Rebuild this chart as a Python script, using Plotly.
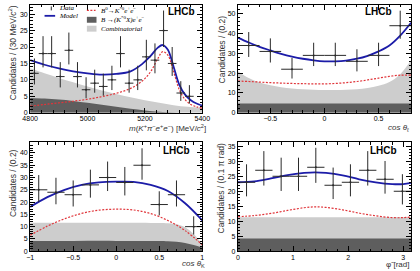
import plotly.graph_objects as go

W, H = 420, 271

# ---------------- Panel 1: mass ----------------
m_centers = [4815, 4845, 4875, 4905, 4935, 4965, 4995, 5025, 5055, 5085,
             5115, 5145, 5175, 5205, 5235, 5265, 5295, 5325, 5355]
m_counts = [12, 18, 18, 11, 19, 11, 7, 9, 8, 10, 18, 9, 10, 17, 16, 25, 15, 6, 5]
m_err_lo = [3.4, 4.2, 4.2, 3.3, 4.3, 3.3, 2.6, 2.9, 2.8, 3.1, 4.2, 2.9, 3.1, 4.1, 4.0, 5.0, 3.8, 2.4, 2.2]
m_err_hi = [4.5, 5.3, 5.3, 4.4, 5.4, 4.4, 3.8, 4.1, 3.9, 4.3, 5.3, 4.1, 4.3, 5.2, 5.1, 6.1, 5.0, 3.6, 3.4]
m_halfbin = 15

m_curve_x = [4800, 4850, 4900, 4950, 5000, 5050, 5100, 5150, 5190, 5220, 5245, 5262,
             5280, 5300, 5320, 5340, 5360, 5380, 5400]
m_model = [16.0, 14.6, 13.5, 12.6, 12.0, 11.6, 11.8, 12.6, 14.8, 17.3, 19.8, 20.6,
           19.2, 14.0, 8.5, 5.5, 3.8, 2.8, 2.2]
m_signal = [2.0, 2.5, 3.0, 3.5, 4.1, 4.9, 5.9, 7.4, 9.6, 12.5, 16.5, 18.6,
            17.5, 12.5, 7.0, 4.0, 2.5, 1.8, 1.4]
m_bkg_x = [4800, 4850, 4900, 4950, 5000, 5050, 5100, 5150, 5200, 5250, 5300, 5350, 5400]
m_comb = [13.5, 12.0, 10.6, 9.3, 8.0, 6.8, 5.7, 4.7, 3.8, 3.0, 2.3, 1.8, 1.5]
m_partreco = [4.5, 4.3, 4.0, 3.6, 3.0, 2.4, 1.8, 1.2, 0.7, 0.3, 0.1, 0.0, 0.0]

# ---------------- Panel 2: cos theta_l ----------------
l_centers = [-0.7, -0.5, -0.3, -0.1, 0.1, 0.3, 0.5, 0.7]
l_counts = [34, 31, 22, 29, 29, 26, 29, 44]
l_err_lo = [5.8, 5.6, 4.7, 5.4, 5.4, 5.1, 5.4, 6.6]
l_err_hi = [6.8, 6.6, 5.7, 6.4, 6.4, 6.1, 6.4, 7.6]
l_halfbin = 0.1
l_curve_x = [-0.8, -0.7, -0.6, -0.5, -0.4, -0.3, -0.2, -0.1, 0.0, 0.1, 0.2, 0.3,
             0.4, 0.5, 0.6, 0.7, 0.8]
l_model = [38.0, 35.5, 33.3, 31.5, 29.8, 28.4, 27.3, 26.5, 26.0, 26.0, 26.4, 27.3,
           28.8, 31.0, 34.0, 39.0, 45.5]
l_signal = [16.0, 15.8, 15.5, 15.2, 15.0, 14.8, 14.7, 14.6, 14.6, 14.8, 15.2, 15.8,
            16.6, 17.5, 18.4, 19.0, 19.0]
l_comb = [21.0, 17.5, 15.3, 13.9, 12.9, 12.3, 11.9, 11.6, 11.5, 11.5, 11.6, 11.9,
          12.5, 13.6, 15.5, 19.5, 26.5]
l_partreco = [4.7] * 17

# ---------------- Panel 3: cos theta_K ----------------
k_centers = [-0.9, -0.7, -0.5, -0.3, -0.1, 0.1, 0.3, 0.5, 0.7, 0.9]
k_counts = [25, 24, 23, 27, 30, 28, 35, 19, 23, 10]
k_err_lo = [5.0, 4.9, 4.8, 5.2, 5.5, 5.3, 5.9, 4.4, 4.8, 3.2]
k_err_hi = [6.0, 5.9, 5.8, 6.2, 6.5, 6.3, 6.9, 5.4, 5.8, 4.2]
k_halfbin = 0.1
k_curve_x = [-1.0, -0.8, -0.6, -0.4, -0.2, 0.0, 0.2, 0.4, 0.6, 0.8, 1.0]
k_model = [18.0, 22.0, 25.0, 27.0, 28.0, 28.3, 28.2, 27.0, 24.5, 19.5, 12.5]
k_signal = [6.5, 10.2, 13.2, 15.4, 16.7, 17.1, 16.8, 15.3, 12.5, 8.4, 2.6]
k_bkg_x = [-1.0, -0.5, 0.0, 0.5, 0.6, 0.7, 0.8, 0.9, 1.0]
k_comb = [11.6, 11.6, 11.6, 11.5, 11.4, 11.0, 9.8, 7.0, 2.8]
k_partreco = [4.2, 4.2, 4.2, 4.1, 4.0, 3.8, 3.3, 2.5, 1.5]

# ---------------- Panel 4: phi ----------------
p_centers = [0.157, 0.471, 0.785, 1.100, 1.414, 1.728, 2.042, 2.356, 2.670, 2.985]
p_counts = [23, 27, 25, 25, 28, 22, 23, 27, 24, 20]
p_err_lo = [4.7, 5.1, 4.9, 4.9, 5.2, 4.6, 4.7, 5.1, 4.8, 4.4]
p_err_hi = [6.0, 6.4, 6.2, 6.2, 6.5, 5.9, 6.0, 6.4, 6.1, 5.7]
p_halfbin = 0.157
p_curve_x = [0.0, 0.3, 0.6, 0.9, 1.2, 1.4, 1.6, 1.9, 2.2, 2.5, 2.8, 3.0, 3.1416]
p_model = [23.0, 23.3, 24.3, 25.4, 26.1, 26.3, 26.1, 25.3, 24.0, 23.0, 22.4, 22.4, 22.8]
p_signal = [11.5, 11.9, 12.6, 13.6, 14.5, 14.8, 14.6, 13.8, 12.7, 11.8, 11.2, 11.2, 11.4]
p_comb = [11.3] * 13
p_partreco = [4.2] * 13

LIGHT = "#cdcdcd"
DARK = "#5e5e5e"
BLUE = "#1c1ca8"
RED = "#e0353a"
DATA = "#2a2a2a"
RED_DASH = "2px,1.5px"

fig = go.Figure()


def add_panel(ax, cx, model, signal, bx, comb, partreco, centers, counts, lo, hi, hb):
    xa, ya = ("x" if ax == 1 else f"x{ax}"), ("y" if ax == 1 else f"y{ax}")
    fig.add_trace(go.Scatter(x=bx, y=comb, mode="lines", line=dict(width=0, shape="spline"),
                             fill="tozeroy", fillcolor=LIGHT, xaxis=xa, yaxis=ya, showlegend=False))
    fig.add_trace(go.Scatter(x=bx, y=partreco, mode="lines", line=dict(width=0, shape="spline"),
                             fill="tozeroy", fillcolor=DARK, xaxis=xa, yaxis=ya, showlegend=False))
    fig.add_trace(go.Scatter(x=cx, y=signal, mode="lines",
                             line=dict(color=RED, width=1.2, dash=RED_DASH, shape="spline"),
                             xaxis=xa, yaxis=ya, showlegend=False))
    fig.add_trace(go.Scatter(x=cx, y=model, mode="lines",
                             line=dict(color=BLUE, width=1.8, shape="spline"),
                             xaxis=xa, yaxis=ya, showlegend=False))
    fig.add_trace(go.Scatter(x=centers, y=counts, mode="markers",
                             marker=dict(color=DATA, size=2),
                             error_x=dict(type="constant", value=hb, color=DATA, thickness=1, width=0),
                             error_y=dict(type="data", array=hi, arrayminus=lo, symmetric=False,
                                          color=DATA, thickness=1, width=0),
                             xaxis=xa, yaxis=ya, showlegend=False))


add_panel(1, m_curve_x, m_model, m_signal, m_bkg_x, m_comb, m_partreco,
          m_centers, m_counts, m_err_lo, m_err_hi, m_halfbin)
add_panel(2, l_curve_x, l_model, l_signal, l_curve_x, l_comb, l_partreco,
          l_centers, l_counts, l_err_lo, l_err_hi, l_halfbin)
add_panel(3, k_curve_x, k_model, k_signal, k_bkg_x, k_comb, k_partreco,
          k_centers, k_counts, k_err_lo, k_err_hi, k_halfbin)
add_panel(4, p_curve_x, p_model, p_signal, p_curve_x, p_comb, p_partreco,
          p_centers, p_counts, p_err_lo, p_err_hi, p_halfbin)

tickfont = dict(family="Liberation Sans", size=7, color="black")


def axis(domain, rng, dtick, anchor, minor_dtick, standoff):
    return dict(domain=domain, range=rng, dtick=dtick, anchor=anchor,
                showline=True, linecolor="black", linewidth=1, mirror="ticks",
                ticks="inside", ticklen=5, tickwidth=1, tickcolor="black",
                minor=dict(ticks="inside", ticklen=2.5, dtick=minor_dtick, tickcolor="black", tickwidth=1),
                showgrid=False, zeroline=False, tickfont=tickfont, fixedrange=True,
                ticklabelstandoff=standoff)


def px(v):
    return v / W


def py(v):
    return 1 - v / H


top_dom = [py(114), py(5)]
bot_dom = [py(254), py(144)]
left_dom = [px(23), px(202)]
right_dom = [px(239), px(419)]

fig.update_layout(
    width=W, height=H, margin=dict(l=0, r=0, t=0, b=0),
    paper_bgcolor="white", plot_bgcolor="white",
    xaxis=axis(left_dom, [4800, 5400], 200, "y", 40, -1),
    yaxis=axis(top_dom, [0, 32.8], 5, "x", 1, 0),
    xaxis2=axis(right_dom, [-0.8, 0.8], 0.5, "y2", 0.1, -1),
    yaxis2=axis(top_dom, [0, 54.5], 10, "x2", 2, 0),
    xaxis3=axis(left_dom, [-1, 1], 0.5, "y3", 0.1, -1),
    yaxis3=axis(bot_dom, [0, 44.3], 5, "x3", 1, 0),
    xaxis4=axis(right_dom, [0, 3.1416], 1, "y4", 0.2, -1),
    yaxis4=axis(bot_dom, [0, 36.3], 5, "x4", 1, 0),
)

ann = []
# y titles
ytf = dict(family="Liberation Sans", size=8.5, color="#333")
for (xx, yy, t) in [(5, 3, "Candidates / (30 MeV/<i>c</i><sup>2</sup>)"),
                    (222, 14, "Candidates / (0.2)"),
                    (6, 149, "Candidates / (0.2)"),
                    (221, 142, "Candidates / (0.1 π rad)")]:
    ann.append(dict(x=px(xx), y=py(yy), xref="paper", yref="paper", text=t, textangle=-90,
                    xanchor="center", yanchor="top", showarrow=False, font=ytf))
# x titles
xtf = dict(family="Liberation Sans", size=8, color="#333")
for (xx, yy, t) in [(208, 129.5, "<i>m</i>(<i>K</i><sup>+</sup><i>π</i><sup>−</sup><i>e</i><sup>+</sup><i>e</i><sup>−</sup>) [MeV/<i>c</i><sup>2</sup>]"),
                    (419, 129, "<i>cos θ</i><sub>ℓ</sub>"),
                    (207, 267.3, "<i>cos θ</i><sub>K</sub>"),
                    (419, 267.3, "φ̃ [rad]")]:
    ann.append(dict(x=px(xx), y=py(yy), xref="paper", yref="paper", text=t,
                    xanchor="right", yanchor="middle", showarrow=False, font=xtf))
# LHCb labels
lf = dict(family="Liberation Sans", size=10, color="black")
for (xx, yy) in [(196, 12), (401, 12), (191, 152), (406, 152)]:
    ann.append(dict(x=px(xx), y=py(yy), xref="paper", yref="paper", text="<b>LHCb</b>",
                    xanchor="right", yanchor="middle", showarrow=False, font=lf))
# legend texts
legf = dict(family="Liberation Serif", size=7, color="black")
for (xx, yy, t) in [(51, 8.5, "<i>Data</i>"), (51, 16, "<i>Model</i>"),
                    (95, 10.5, "<i>B</i><sup>0</sup><i>→K</i><sup>*0</sup><i>e</i><sup>+</sup><i>e</i><sup>−</sup>"),
                    (95, 20, "<i>B →(K</i><sup>*0</sup><i>X)e</i><sup>+</sup><i>e</i><sup>−</sup>"),
                    (95, 29, "<i>Combinatorial</i>")]:
    ann.append(dict(x=px(xx), y=py(yy), xref="paper", yref="paper", text=t,
                    xanchor="left", yanchor="middle", showarrow=False, font=legf))

shapes = [
    dict(type="line", xref="paper", yref="paper", x0=px(45), x1=px(45), y0=py(6.5), y1=py(10.5),
         line=dict(color=DATA, width=1)),
    dict(type="line", xref="paper", yref="paper", x0=px(38), x1=px(49), y0=py(16), y1=py(16),
         line=dict(color=BLUE, width=1.8)),
    dict(type="line", xref="paper", yref="paper", x0=px(82), x1=px(91), y0=py(10.5), y1=py(10.5),
         line=dict(color=RED, width=1.2, dash=RED_DASH)),
    dict(type="rect", xref="paper", yref="paper", x0=px(82), x1=px(92), y0=py(23), y1=py(17),
         line=dict(width=0), fillcolor=DARK),
    dict(type="rect", xref="paper", yref="paper", x0=px(82), x1=px(92), y0=py(32), y1=py(26),
         line=dict(width=0), fillcolor=LIGHT),
]
fig.update_layout(annotations=ann, shapes=shapes, showlegend=False)
fig.write_html("out.html")
